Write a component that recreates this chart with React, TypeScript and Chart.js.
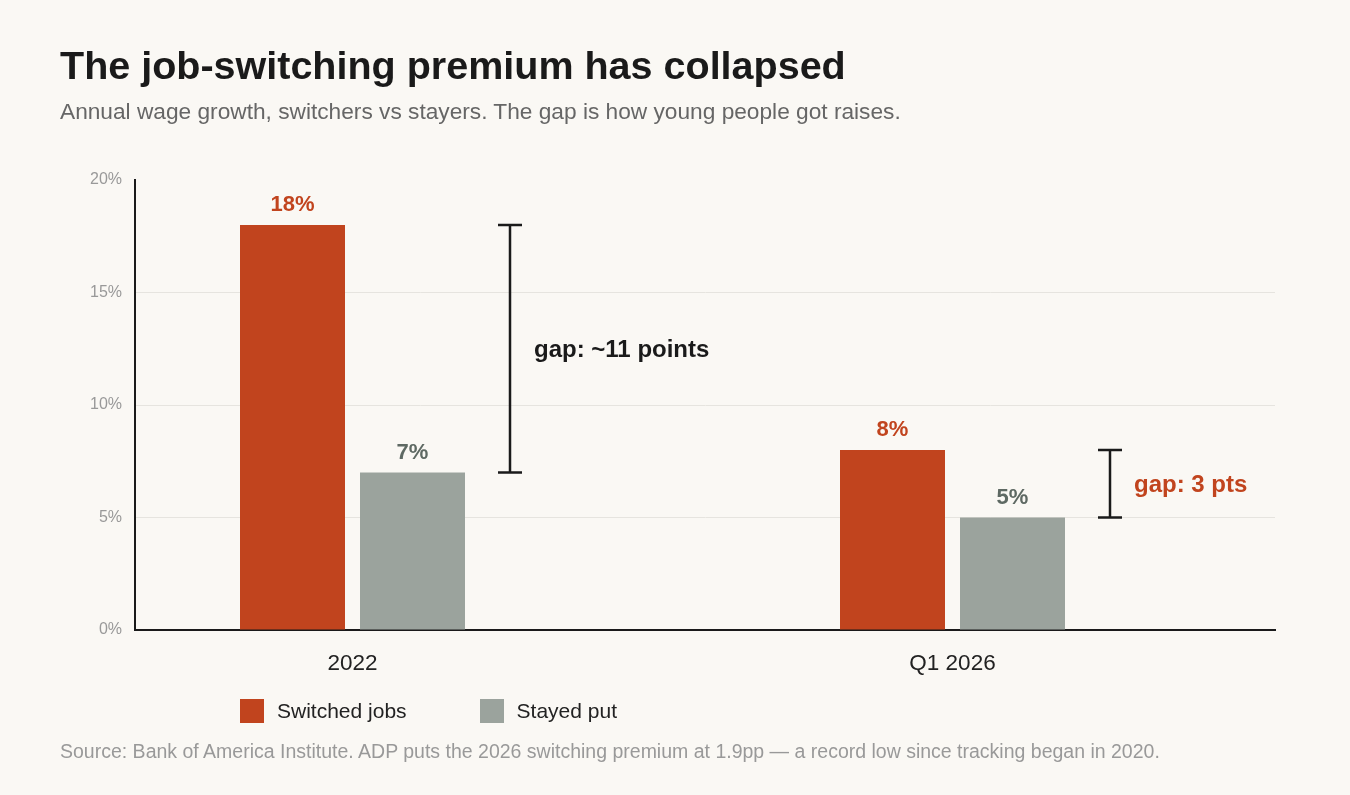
import React, { useEffect, useRef } from "react";
import { Chart, registerables } from "chart.js";

Chart.register(...registerables);

// Data
const periods = ["2022", "Q1 2026"];
const switchedJobs = [18, 8];
const stayedPut = [7, 5];
const yTicks = [0, 5, 10, 15, 20];
const gapLabels = ["gap: ~11 points", "gap: 3 pts"];

const ORANGE = "#C1441E";
const GRAY = "#9BA39D";
const GRAY_TEXT = "#5E6963";
const INK = "#1a1a1a";
const BG = "#FAF8F4";
const FONT = "'Liberation Sans', Arial, Helvetica, sans-serif";

// value labels above each bar
const valueLabels = {
  id: "valueLabels",
  afterDatasetsDraw(chart: any) {
    const ctx = chart.ctx;
    ctx.save();
    ctx.font = `bold 22px ${FONT}`;
    ctx.textAlign = "center";
    ctx.textBaseline = "alphabetic";
    chart.data.datasets.forEach((ds: any, i: number) => {
      const meta = chart.getDatasetMeta(i);
      ctx.fillStyle = i === 0 ? ORANGE : GRAY_TEXT;
      meta.data.forEach((bar: any, j: number) => {
        const { x, y } = bar.getProps(["x", "y"], true);
        ctx.fillText(`${ds.data[j].y}%`, x, y - 14);
      });
    });
    ctx.restore();
  },
};

// bracket showing the gap between the two bars of each group
const gapBrackets = {
  id: "gapBrackets",
  afterDatasetsDraw(chart: any) {
    const ctx = chart.ctx;
    const hi = chart.getDatasetMeta(0).data;
    const lo = chart.getDatasetMeta(1).data;
    ctx.save();
    hi.forEach((top: any, j: number) => {
      const a = top.getProps(["y"], true);
      const b = lo[j].getProps(["x", "y", "width"], true);
      const x = b.x + b.width / 2 + 45;
      ctx.strokeStyle = INK;
      ctx.lineWidth = 2.5;
      ctx.beginPath();
      ctx.moveTo(x, a.y);
      ctx.lineTo(x, b.y);
      ctx.moveTo(x - 12, a.y);
      ctx.lineTo(x + 12, a.y);
      ctx.moveTo(x - 12, b.y);
      ctx.lineTo(x + 12, b.y);
      ctx.stroke();
      ctx.font = `bold 24px ${FONT}`;
      ctx.fillStyle = j === 0 ? INK : ORANGE;
      ctx.textAlign = "left";
      ctx.textBaseline = "alphabetic";
      ctx.fillText(gapLabels[j], x + 24, (a.y + b.y) / 2 + 8.5);
    });
    ctx.restore();
  },
};

const GapChart: React.FC = () => {
  const canvasRef = useRef<HTMLCanvasElement | null>(null);
  const chartRef = useRef<Chart | null>(null);

  useEffect(() => {
    if (chartRef.current) chartRef.current.destroy();
    if (!canvasRef.current) return;

    chartRef.current = new Chart(canvasRef.current, {
      type: "bar",
      data: {
        datasets: [
          {
            label: "Switched jobs",
            data: switchedJobs.map((v, i) => ({ x: i, y: v })),
            backgroundColor: ORANGE,
          },
          {
            label: "Stayed put",
            data: stayedPut.map((v, i) => ({ x: i, y: v })),
            backgroundColor: GRAY,
          },
        ],
      },
      options: {
        animation: false,
        responsive: true,
        maintainAspectRatio: false,
        categoryPercentage: 0.4,
        barPercentage: 0.875,
        layout: { padding: { top: 180, right: 75, left: 0, bottom: 105 } },
        scales: {
          x: {
            type: "linear",
            min: -0.3625,
            max: 1.5375,
            offset: false,
            z: 1,
            afterBuildTicks: (scale: any) => {
              scale.ticks = periods.map((_, i) => ({ value: i }));
            },
            afterFit: (scale: any) => {
              scale.height = 60;
            },
            grid: { color: "rgba(0,0,0,0)", drawTicks: false, offset: false },
            border: { display: true, color: INK, width: 2 },
            ticks: {
              padding: 20,
              color: "#222",
              font: { family: FONT, size: 22.5 },
              callback: (v: any) => periods[v] ?? "",
            },
          },
          y: {
            min: 0,
            max: 20,
            afterBuildTicks: (scale: any) => {
              scale.ticks = yTicks.map((v) => ({ value: v }));
            },
            afterFit: (scale: any) => {
              scale.width = 135;
            },
            grid: {
              drawTicks: false,
              color: (c: any) =>
                c.tick && c.tick.value > 0 && c.tick.value < 20 ? "#E6E4DF" : "rgba(0,0,0,0)",
            },
            border: { display: true, color: INK, width: 2 },
            ticks: {
              padding: 13,
              color: "#999",
              font: { family: FONT, size: 16 },
              callback: (v: any) => `${v}%`,
            },
          },
        },
        plugins: {
          legend: { display: false },
          tooltip: { enabled: false },
        },
      },
      plugins: [valueLabels, gapBrackets],
    });

    return () => {
      if (chartRef.current) chartRef.current.destroy();
      chartRef.current = null;
    };
  }, []);

  return (
    <div style={{ position: "absolute", left: 0, top: 0, width: 1350, height: 795 }}>
      <canvas ref={canvasRef} />
    </div>
  );
};

const App: React.FC = () => {
  useEffect(() => {
    document.body.style.margin = "0";
    document.body.style.background = BG;
  }, []);

  const text = (extra: React.CSSProperties): React.CSSProperties => ({
    position: "absolute",
    whiteSpace: "nowrap",
    fontFamily: FONT,
    ...extra,
  });

  return (
    <div style={{ position: "relative", width: 1350, height: 795, background: BG, overflow: "hidden" }}>
      <GapChart />
      <div style={text({ left: 60, top: 46, fontSize: 39.5, lineHeight: "39.5px", fontWeight: 700, color: INK })}>
        The job-switching premium has collapsed
      </div>
      <div style={text({ left: 60, top: 100, fontSize: 22.7, lineHeight: "22.7px", color: "#666" })}>
        Annual wage growth, switchers vs stayers. The gap is how young people got raises.
      </div>
      <div style={text({ left: 240, top: 699, display: "flex", alignItems: "center", fontSize: 21, lineHeight: "24px", color: "#222" })}>
        <span style={{ width: 24, height: 24, background: ORANGE, marginRight: 13 }} />
        <span style={{ marginRight: 73 }}>Switched jobs</span>
        <span style={{ width: 24, height: 24, background: GRAY, marginRight: 13 }} />
        <span>Stayed put</span>
      </div>
      <div style={text({ left: 60, top: 742, fontSize: 19.5, lineHeight: "19.5px", color: "#999" })}>
        Source: Bank of America Institute. ADP puts the 2026 switching premium at 1.9pp — a record low since tracking began in 2020.
      </div>
    </div>
  );
};

export default App;
